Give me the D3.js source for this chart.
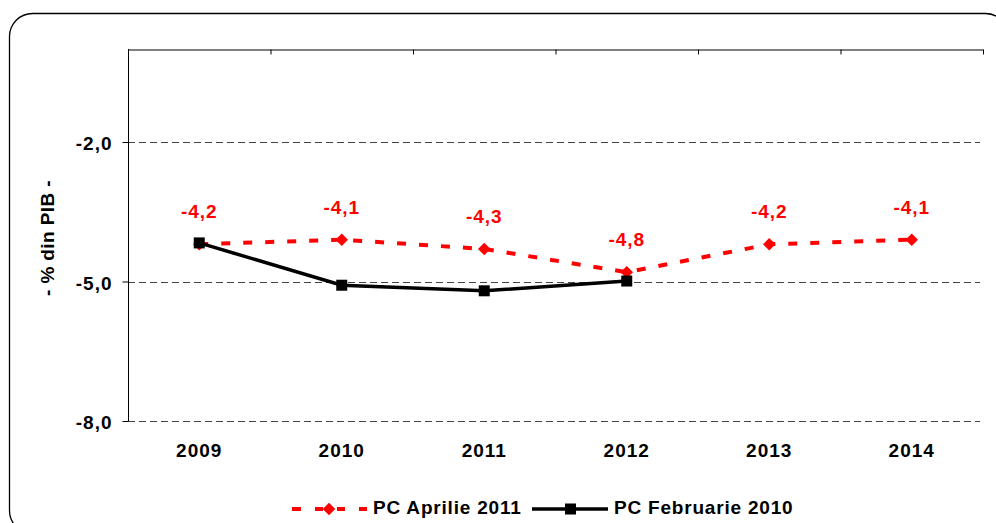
<!DOCTYPE html>
<html>
<head>
<meta charset="utf-8">
<script src="https://cdn.jsdelivr.net/npm/d3@7"></script>
<style>
  body { margin: 0; background: #fff; }
  text { font-family: "Liberation Sans", Arial, sans-serif; font-weight: bold; }
</style>
</head>
<body>
<div class="chart"></div>
<script>
let width = 996
let height = 523

// data
let years = ['2009', '2010', '2011', '2012', '2013', '2014']
let aprilie2011 = [-4.2, -4.1, -4.3, -4.8, -4.2, -4.1]
let februarie2010 = [-4.17, -5.08, -5.2, -4.99]
let yTicks = [-8, -5, -2]

let plot = { left: 128, right: 983, top: 49, bottom: 421 }

let svg = d3.select('div.chart')
    .append('svg')
    .attr('width', width)
    .attr('height', height)

// outer rounded frame (runs off the right and bottom edge)
svg.append('rect')
    .attr('x', 9.5)
    .attr('y', 13.5)
    .attr('width', 999)
    .attr('height', 520)
    .attr('rx', 23)
    .style('fill', 'none')
    .style('stroke', 'black')
    .style('stroke-width', 1.3)

let x = d3.scaleBand()
    .domain(years)
    .range([plot.left, plot.right])

let y = d3.scaleLinear()
    .domain([-8, 0])
    .range([plot.bottom, plot.top])

let fmt = v => d3.format('.1f')(v).replace('.', ',').replace('−', '-')

// gridlines
svg.append('g')
    .selectAll('line')
    .data(yTicks)
    .enter()
    .append('line')
    .attr('x1', plot.left)
    .attr('x2', plot.right - 3)
    .attr('y1', d => Math.round(y(d)) + 0.5)
    .attr('y2', d => Math.round(y(d)) + 0.5)
    .style('stroke', '#444')
    .style('stroke-dasharray', '7,4')

// y axis
let yAxis = svg.append('g')
    .attr('transform', 'translate(' + (plot.left + 0.5) + ',0)')
    .call(d3.axisLeft(y).tickValues(yTicks).tickSize(6).tickFormat(fmt))
yAxis.select('.domain').attr('d', 'M0,' + plot.top + 'V' + plot.bottom)
yAxis.selectAll('text')
    .style('font-size', '19px')
    .style('letter-spacing', '1px')
    .attr('x', -16)
    .attr('dy', '0.4em')

// x axis sits at 0 (top), labels at the bottom
let xAxis = svg.append('g')
    .attr('transform', 'translate(0,' + (plot.top + 0.5) + ')')
    .call(d3.axisBottom(x).tickValues([]).tickSizeOuter(0))
xAxis.selectAll('.bound')
    .data(d3.range(years.length + 1))
    .enter()
    .append('line')
    .attr('x1', i => plot.left + i * x.step() + 0.5)
    .attr('x2', i => plot.left + i * x.step() + 0.5)
    .attr('y1', 0)
    .attr('y2', 5)
    .style('stroke', 'black')

svg.append('g')
    .selectAll('text')
    .data(years)
    .enter()
    .append('text')
    .attr('x', d => x(d) + x.bandwidth() / 2)
    .attr('y', plot.bottom + 36)
    .attr('text-anchor', 'middle')
    .style('font-size', '19px')
    .style('letter-spacing', '1px')
    .text(d => d)

// y title
svg.append('text')
    .attr('transform', 'translate(54,238) rotate(-90)')
    .attr('text-anchor', 'middle')
    .style('font-size', '19px')
    .style('letter-spacing', '0.4px')
    .text('- % din PIB -')

let cx = (d, i) => x(years[i]) + x.bandwidth() / 2

let line = d3.line()
    .x(cx)
    .y(d => y(d))

// red dashed series
svg.append('path')
    .datum(aprilie2011)
    .attr('d', line)
    .style('fill', 'none')
    .style('stroke', '#ff0000')
    .style('stroke-width', 4)
    .style('stroke-dasharray', '9,13')

svg.append('g')
    .selectAll('path')
    .data(aprilie2011)
    .enter()
    .append('path')
    .attr('d', d3.symbol().type(d3.symbolDiamond2).size(100))
    .attr('transform', (d, i) => 'translate(' + cx(d, i) + ',' + y(d) + ')')
    .style('fill', '#ff0000')

// black series
svg.append('path')
    .datum(februarie2010)
    .attr('d', line)
    .style('fill', 'none')
    .style('stroke', 'black')
    .style('stroke-width', 3.5)

svg.append('g')
    .selectAll('rect')
    .data(februarie2010)
    .enter()
    .append('rect')
    .attr('x', (d, i) => cx(d, i) - 5.5)
    .attr('y', d => y(d) - 5.5)
    .attr('width', 11)
    .attr('height', 11)
    .style('fill', 'black')

// data labels
svg.append('g')
    .selectAll('text')
    .data(aprilie2011)
    .enter()
    .append('text')
    .attr('x', cx)
    .attr('y', d => y(d) - 26)
    .attr('text-anchor', 'middle')
    .style('font-size', '19px')
    .style('letter-spacing', '1px')
    .style('fill', '#ff0000')
    .text(fmt)

// legend
let legend = svg.append('g').attr('transform', 'translate(0,509)')
legend.append('line')
    .attr('x1', 292).attr('x2', 367)
    .style('stroke', '#ff0000')
    .style('stroke-width', 4)
    .style('stroke-dasharray', '9,14,8,14,8,14,8')
legend.append('path')
    .attr('d', d3.symbol().type(d3.symbolDiamond2).size(100))
    .attr('transform', 'translate(329,0)')
    .style('fill', '#ff0000')
legend.append('text')
    .attr('x', 373).attr('y', 5)
    .style('font-size', '19px')
    .style('letter-spacing', '0.8px')
    .text('PC Aprilie 2011')
legend.append('line')
    .attr('x1', 532).attr('x2', 608)
    .style('stroke', 'black')
    .style('stroke-width', 3.5)
legend.append('rect')
    .attr('x', 565).attr('y', -5.5)
    .attr('width', 11).attr('height', 11)
    .style('fill', 'black')
legend.append('text')
    .attr('x', 614).attr('y', 5)
    .style('font-size', '19px')
    .style('letter-spacing', '0.8px')
    .text('PC Februarie 2010')
</script>
</body>
</html>
